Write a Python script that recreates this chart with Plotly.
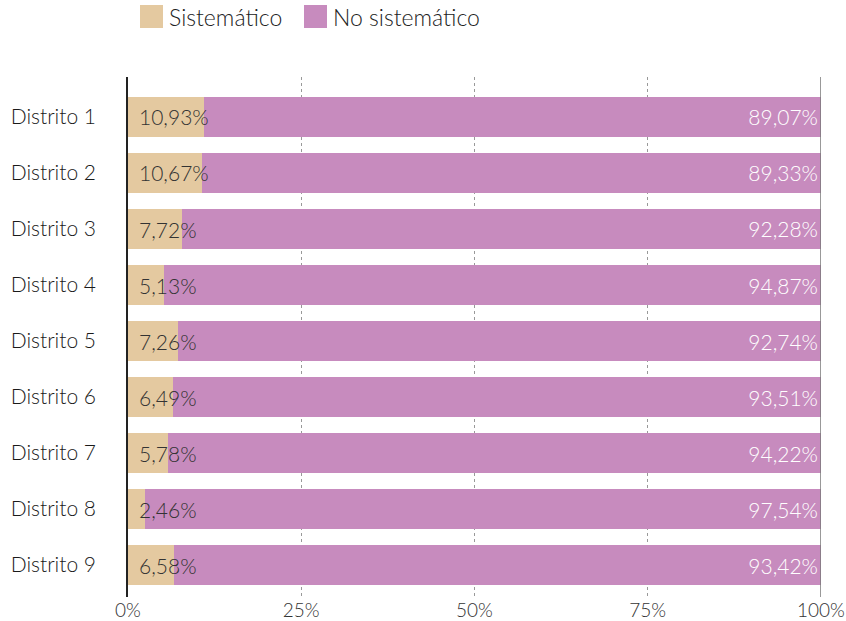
import plotly.graph_objects as go

districts = ["Distrito 1", "Distrito 2", "Distrito 3", "Distrito 4", "Distrito 5",
             "Distrito 6", "Distrito 7", "Distrito 8", "Distrito 9"]
sistematico = [10.93, 10.67, 7.72, 5.13, 7.26, 6.49, 5.78, 2.46, 6.58]
no_sistematico = [89.07, 89.33, 92.28, 94.87, 92.74, 93.51, 94.22, 97.54, 93.42]
series_names = ["Sistemático", "No sistemático"]
x_ticks = [0, 25, 50, 75, 100]
x_ticklabels = ["0%", "25%", "50%", "75%", "100%"]

TAN = "#E4C9A0"
PURPLE = "#C78BBE"
FONT = "Lato"

def fmt(v):
    return f"{v:.2f}".replace(".", ",") + "%"

fig = go.Figure()
fig.add_trace(go.Bar(
    y=districts, x=sistematico, orientation="h", name=series_names[0],
    marker=dict(color=TAN, line=dict(width=0)), showlegend=False, hoverinfo="skip",
))
fig.add_trace(go.Bar(
    y=districts, x=no_sistematico, orientation="h", name=series_names[1],
    marker=dict(color=PURPLE, line=dict(width=0)), showlegend=False,
    text=[fmt(v) for v in no_sistematico], textposition="inside",
    insidetextanchor="end", constraintext="none",
    textfont=dict(family=FONT, size=21, color="white", weight=300),
    hoverinfo="skip",
))

for d, v in zip(districts, sistematico):
    fig.add_annotation(x=0, y=d, xref="x", yref="y", text=fmt(v), showarrow=False,
                       xanchor="left", xshift=9,
                       font=dict(family=FONT, size=21, color="#333333", weight=300))

# legend drawn manually (large square swatches); positions relative to plot area
legend_x = [140, 304]
for name, col, lx in zip(series_names, [TAN, PURPLE], legend_x):
    fig.add_shape(type="rect", xref="paper", yref="paper",
                  x0=(lx - 128) / 693, x1=(lx + 23 - 128) / 693,
                  y0=(597 - 28) / 520, y1=(597 - 5) / 520,
                  fillcolor=col, line=dict(width=0))
    fig.add_annotation(xref="paper", yref="paper", x=(lx + 27 - 128) / 693,
                       y=(597 - 17) / 520, text=name, showarrow=False,
                       xanchor="left", yanchor="middle",
                       font=dict(family=FONT, size=23, color="#222222", weight=300))

# right border line (gray)
fig.add_shape(type="line", xref="x", yref="paper", x0=100, x1=100, y0=0, y1=1,
              line=dict(color="#777777", width=1.5))

fig.update_layout(
    barmode="stack", bargap=0.3,
    width=846, height=621,
    margin=dict(l=128, r=25, t=77, b=24, autoexpand=False),
    plot_bgcolor="white", paper_bgcolor="white",
    font=dict(family=FONT, color="#222222"),
    xaxis=dict(range=[0, 100], tickvals=x_ticks, ticktext=x_ticklabels,
               showgrid=True, gridcolor="#999999", griddash="3px,3px", gridwidth=1,
               zeroline=False, showline=False, ticks="", automargin=False,
               tickfont=dict(family=FONT, size=19, color="#333333", weight=300)),
    yaxis=dict(categoryorder="array", categoryarray=districts,
               range=[8.571, -0.714], showgrid=False, zeroline=False,
               showline=True, linecolor="#222222", linewidth=1.5, ticks="",
               ticklabelstandoff=26, automargin=False,
               tickfont=dict(family=FONT, size=21, color="#1a1a1a", weight=300)),
)

fig.write_html("out.html", config={"displayModeBar": False},
               post_script="document.body.style.margin='0px';")
